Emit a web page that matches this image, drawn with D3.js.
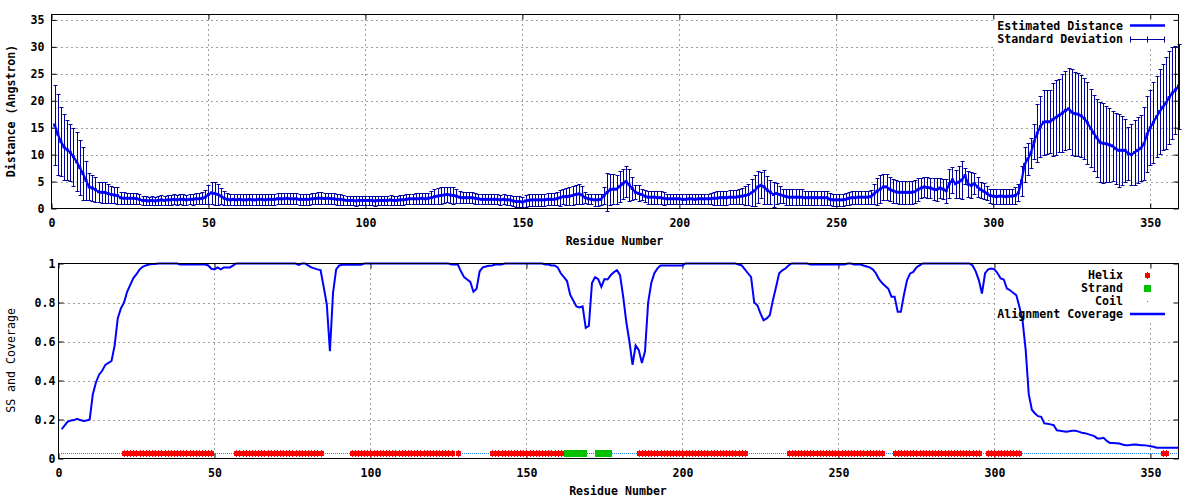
<!DOCTYPE html>
<html><head><meta charset="utf-8">
<script src="https://cdn.jsdelivr.net/npm/d3@7"></script>
<style>
body{margin:0;background:#fff;}
svg text{font-family:"DejaVu Sans Mono",monospace;font-weight:bold;font-size:11.6px;fill:#000;}
</style></head><body>
<svg id="c" width="1200" height="500"></svg>
<script>
// ---------- data ----------
const xTicks=[0,50,100,150,200,250,300,350];
const distTicks=[0,5,10,15,20,25,30,35];
const covTicks=[0,0.2,0.4,0.6,0.8,1];
const covTickLabels=["0","0.2","0.4","0.6","0.8","1"];
const residueFirst=1;
const xMax=359, distMax=36;

const distMean=[
15.5,13.8,12.4,11.4,10.9,10.4,9.6,8.7,7.6,6.5,
5.2,4.0,3.8,3.5,3.1,3.0,3.0,2.8,2.6,2.5,
2.4,2.0,1.9,1.9,1.9,1.9,1.85,1.7,1.5,1.5,
1.4,1.5,1.4,1.5,1.6,1.5,1.6,1.6,1.7,1.6,
1.7,1.7,1.6,1.7,1.7,1.8,1.8,1.9,2.1,2.6,
2.9,2.8,2.6,2.3,1.9,1.7,1.6,1.7,1.6,1.7,
1.6,1.6,1.7,1.6,1.6,1.7,1.7,1.6,1.7,1.7,
1.7,1.8,1.8,1.8,1.9,1.8,1.8,1.8,1.7,1.7,
1.7,1.7,1.8,1.85,1.9,1.9,1.85,1.9,1.85,1.8,
1.7,1.7,1.6,1.5,1.5,1.5,1.4,1.5,1.5,1.5,
1.5,1.5,1.4,1.5,1.5,1.5,1.5,1.6,1.5,1.5,
1.6,1.6,1.7,1.8,1.8,1.8,1.8,1.9,1.8,1.9,
2.0,2.2,2.3,2.4,2.5,2.6,2.5,2.4,2.3,2.1,
2.0,2.0,2.0,2.0,1.9,1.8,1.7,1.7,1.7,1.7,
1.7,1.7,1.6,1.7,1.6,1.6,1.4,1.3,1.3,1.2,
1.4,1.5,1.6,1.6,1.6,1.6,1.6,1.7,1.7,1.7,
1.8,2.0,2.2,2.2,2.3,2.4,2.6,2.7,2.5,2.0,
1.8,1.7,1.6,1.6,1.7,2.4,3.0,3.5,3.6,3.6,
4.1,4.6,5.0,4.4,3.7,3.0,2.8,2.6,2.3,2.1,
2.1,2.1,2.0,2.0,1.9,1.8,1.8,1.8,1.8,1.8,
1.7,1.7,1.8,1.8,1.7,1.8,1.8,1.8,1.8,1.8,
1.9,1.9,2.0,2.0,2.0,2.1,2.1,2.1,2.2,2.3,
2.4,2.6,2.9,3.3,4.0,4.3,4.0,3.4,3.0,2.6,
2.8,2.6,2.4,2.2,2.1,2.1,2.1,2.1,2.1,2.0,
2.0,2.0,2.0,2.0,2.0,2.0,2.0,1.7,1.6,1.6,
1.6,1.6,1.7,1.9,2.0,2.0,2.1,2.1,2.1,2.1,
2.2,2.7,3.2,3.6,4.0,4.0,3.6,3.3,3.1,3.0,
3.0,3.0,3.0,3.0,3.1,3.5,3.8,4.0,3.9,3.8,
3.6,3.5,3.8,3.6,3.3,4.6,5.3,4.6,4.9,5.3,
6.1,4.5,4.3,4.6,4.0,3.5,3.2,2.8,2.4,2.3,
2.2,2.3,2.3,2.2,2.3,2.3,2.4,2.9,5.1,8.2,
9.2,10.3,12.4,14.0,15.2,16.0,16.1,16.1,16.5,16.9,
17.3,17.7,18.2,18.5,17.9,17.6,17.5,17.2,16.7,15.9,
14.9,14.0,13.1,12.3,12.1,12.0,11.8,11.6,11.1,10.8,
10.8,10.8,10.2,10.0,10.4,10.8,11.2,12.0,13.8,15.0,
16.0,17.0,18.0,18.8,19.6,20.6,21.4,22.0,22.7];

const distSD=[
7.5,7.5,6.4,6.2,5.6,5.3,5.4,5.5,5.1,4.9,
3.7,2.5,2.5,2.3,1.9,1.9,1.9,1.7,1.6,1.5,
1.5,1.1,1.1,1.0,1.0,1.0,1.0,0.9,0.8,0.8,
0.8,0.8,0.8,0.8,0.9,0.9,0.9,0.9,0.9,0.9,
0.9,1.0,0.9,0.9,1.0,1.0,1.0,1.1,1.3,1.8,
2.1,2.2,2.0,1.5,1.3,1.1,1.0,1.0,1.0,1.0,
1.0,1.0,1.0,1.0,1.0,1.0,1.0,1.0,1.0,1.0,
1.0,1.0,1.0,1.0,1.0,1.0,1.0,1.0,1.0,1.0,
1.0,1.0,1.0,1.0,1.1,1.1,1.0,1.0,1.0,1.0,
1.0,1.0,0.9,0.9,0.9,0.9,0.9,0.9,0.9,0.9,
0.9,0.9,0.9,0.9,0.9,0.9,0.9,0.9,0.9,0.9,
0.9,0.9,0.9,0.9,0.9,1.0,1.0,1.0,1.0,1.0,
1.2,1.4,1.5,1.5,1.5,1.4,1.5,1.5,1.3,1.1,
1.0,1.0,1.0,1.0,1.0,0.9,0.9,0.9,0.9,0.9,
0.9,0.9,0.9,0.9,0.9,0.9,1.0,1.0,1.0,1.0,
1.1,1.1,1.1,1.1,1.1,1.1,1.1,1.1,1.1,1.1,
1.2,1.5,1.4,1.6,1.6,1.7,1.8,1.8,1.6,1.0,
0.9,0.9,1.1,1.1,1.0,1.5,3.5,2.9,2.8,2.7,
2.9,2.8,2.9,3.0,2.1,1.3,1.5,1.0,1.1,1.2,
1.2,1.2,1.2,1.2,1.2,0.9,0.9,0.9,0.9,0.9,
0.9,0.9,0.9,0.9,0.9,0.9,0.9,0.9,0.9,1.0,
1.2,1.3,1.3,1.3,1.3,1.3,1.3,1.3,1.4,1.5,
1.7,2.0,2.5,2.9,3.0,2.4,3.1,2.6,2.2,2.3,
1.9,1.5,1.3,1.5,1.5,1.5,1.5,1.5,1.5,1.3,
1.3,1.3,1.3,1.3,1.3,1.3,1.3,1.1,1.1,1.1,
1.1,1.1,1.1,1.2,1.2,1.2,1.2,1.2,1.2,1.2,
1.3,1.9,2.5,2.6,2.4,2.4,2.3,2.2,2.1,2.1,
2.1,2.1,2.1,2.1,2.1,2.1,1.9,1.8,1.9,1.9,
2.0,2.2,1.9,1.8,2.2,2.7,2.4,2.6,3.0,3.5,
1.5,2.4,2.4,2.0,1.8,1.5,1.5,1.3,1.3,1.4,
1.4,1.4,1.4,1.4,1.4,1.4,1.5,1.6,2.8,3.2,
3.0,2.8,3.2,5.3,5.7,6.0,5.9,5.8,6.8,6.9,
6.8,7.2,7.4,7.5,8.0,7.8,7.7,7.6,7.5,7.6,
7.2,7.1,7.2,7.4,7.4,7.1,6.8,6.5,6.6,6.8,
6.4,5.8,5.0,5.6,6.0,6.1,6.1,6.8,7.0,7.0,
7.5,7.5,7.9,8.0,8.5,8.7,8.5,8.1,7.9];

const coverage=[
0.15,0.17,0.19,0.195,0.197,0.203,0.197,0.193,0.195,0.20,
0.33,0.39,0.43,0.45,0.48,0.49,0.50,0.58,0.72,0.77,
0.80,0.855,0.89,0.925,0.945,0.97,0.983,0.99,0.995,0.997,
0.998,1,1,1,1,1,1,1,0.995,0.995,
0.995,0.995,0.995,0.995,0.995,0.995,0.995,0.99,0.973,0.97,
0.98,0.97,0.98,0.98,0.98,0.99,1,1,1,1,
1,1,1,1,1,1,1,1,1,1,
1,1,1,1,1,1,0.993,1,1,0.99,
0.98,0.975,0.97,0.966,0.88,0.79,0.55,0.85,0.97,0.99,
0.993,0.993,0.993,0.993,0.993,0.993,0.993,1,1,1,
1,1,1,1,1,1,1,1,1,1,
1,1,1,1,1,1,1,1,1,1,
1,1,1,1,1,0.995,0.995,0.995,0.96,0.93,
0.918,0.906,0.855,0.87,0.96,0.98,0.985,0.988,0.99,0.995,
0.995,0.995,1,1,1,1,1,1,1,1,
1,1,1,1,1,0.995,0.995,0.99,0.99,0.98,
0.95,0.93,0.91,0.84,0.81,0.78,0.775,0.78,0.67,0.68,
0.90,0.93,0.92,0.88,0.92,0.918,0.94,0.955,0.966,0.94,
0.83,0.70,0.60,0.48,0.58,0.556,0.49,0.55,0.80,0.90,
0.95,0.975,0.99,0.99,0.99,0.99,0.99,0.99,0.99,0.99,
1,1,1,1,1,1,1,1,1,1,
1,1,1,1,1,1,1,0.995,0.99,0.97,
0.95,0.93,0.80,0.786,0.744,0.709,0.718,0.735,0.812,0.88,
0.95,0.965,0.974,0.99,1,1,1,1,1,1,
0.995,0.995,0.995,0.995,0.995,0.995,0.995,0.995,0.995,0.995,
0.995,0.995,1,1,0.995,0.995,0.995,0.99,0.985,0.98,
0.97,0.95,0.92,0.90,0.885,0.87,0.83,0.83,0.752,0.752,
0.84,0.915,0.949,0.957,0.98,0.99,1,1,1,1,
1,1,1,1,1,1,1,1,1,1,
1,1,0.99,0.96,0.915,0.846,0.95,0.97,0.974,0.97,
0.95,0.923,0.918,0.872,0.863,0.85,0.838,0.778,0.709,0.56,
0.33,0.25,0.231,0.217,0.214,0.18,0.178,0.175,0.171,0.145,
0.142,0.14,0.137,0.14,0.142,0.142,0.138,0.132,0.13,0.125,
0.12,0.115,0.103,0.103,0.106,0.09,0.08,0.079,0.078,0.077,
0.072,0.068,0.068,0.07,0.072,0.07,0.068,0.068,0.066,0.063,
0.06,0.055,0.055,0.055,0.055,0.055,0.055,0.055,0.055];

const helixSegments=[[21,49],[57,84],[94,126],[128,128],[139,161],[186,220],[234,264],[268,295],[298,308],[354,355]];
const strandSegments=[[163,168],[173,176]];
const ssLevel=0.03;

const distLabels=["Estimated Distance","Standard Deviation"];
const covLabels=["Helix","Strand","Coil","Alignment Coverage"];

// ---------- drawing ----------
const svg=d3.select("#c");
svg.append("rect").attr("width",1200).attr("height",500).attr("fill","#fff");
const C={line:"#0000ff",bar:"#0000a0",grid:"#a0a0a0",helix:"#ff0000",strand:"#00c000",coil:"#1e7fff"};

function panel(box, yDomain, yTickVals, yTickFmt, yPad, keyBox){
  const x=d3.scaleLinear().domain([0,xMax]).range([box.l+0.5,box.r+0.5]);
  const y=d3.scaleLinear().domain(yDomain).range([box.b+0.5,box.t+0.5]);
  const g=svg.append("g");
  const grid=g.append("g").attr("stroke",C.grid).attr("stroke-dasharray","2,3").attr("fill","none");
  xTicks.filter(t=>t>0).forEach(t=>grid.append("line").attr("x1",Math.round(x(t))+0.5).attr("x2",Math.round(x(t))+0.5).attr("y1",box.t).attr("y2",box.b));
  yTickVals.filter(t=>t>yDomain[0]&&t<yDomain[1]).forEach(t=>grid.append("line").attr("y1",Math.round(y(t))+0.5).attr("y2",Math.round(y(t))+0.5).attr("x1",box.l).attr("x2",box.r));
  g.append("rect").attr("x",keyBox[0]).attr("y",keyBox[1]).attr("width",keyBox[2]-keyBox[0]).attr("height",keyBox[3]-keyBox[1]).attr("fill","#fff");
  const ax=(a,tr)=>{const s=g.append("g").attr("transform",tr).call(a);s.select(".domain").remove();s.selectAll("line").attr("stroke","#000");s.selectAll("text").attr("fill","#000");s.attr("font-size",null).attr("font-family",null);return s;};
  ax(d3.axisBottom(x).tickValues(xTicks).tickSize(-5).tickPadding(10).tickFormat(d3.format("d")),`translate(0,${box.b+0.5})`);
  ax(d3.axisTop(x).tickValues(xTicks).tickSize(-5).tickFormat(""),`translate(0,${box.t+0.5})`);
  ax(d3.axisLeft(y).tickValues(yTickVals).tickSize(-5).tickPadding(yPad).tickFormat(yTickFmt),`translate(${box.l+0.5},0)`);
  ax(d3.axisRight(y).tickValues(yTickVals).tickSize(-5).tickFormat(""),`translate(${box.r+0.5},0)`);
  return {x,y,g};
}

// ---- top panel ----
const P1={l:51,r:1178,t:14,b:208};
const t=panel(P1,[0,distMax],distTicks,d3.format("d"),7,[993,15,1178,48]);
const dIdx=distMean.map((m,i)=>({r:i+residueFirst,m,s:distSD[i]}));
const bars=d3.path();
dIdx.forEach(d=>{
  const xx=Math.round(t.x(d.r))+0.5, y1=Math.round(t.y(d.m+d.s))+0.5, y0=Math.round(t.y(d.m-d.s))+0.5;
  bars.moveTo(xx,y0);bars.lineTo(xx,y1);
  bars.moveTo(xx-2,y1);bars.lineTo(xx+2,y1);
  bars.moveTo(xx-2,y0);bars.lineTo(xx+2,y0);
});
t.g.append("path").attr("d",bars.toString()).attr("stroke",C.bar).attr("stroke-width",1).attr("fill","none");
t.g.append("path").datum(dIdx).attr("d",d3.line().x(d=>t.x(d.r)).y(d=>t.y(d.m))).attr("stroke",C.line).attr("stroke-width",2.2).attr("fill","none");
t.g.selectAll("rect.pt").data(dIdx).join("rect").attr("class","pt").attr("x",d=>t.x(d.r)-1.5).attr("y",d=>t.y(d.m)-1.5).attr("width",3).attr("height",3).attr("fill",C.line);
t.g.append("rect").attr("x",P1.l+0.5).attr("y",P1.t+0.5).attr("width",P1.r-P1.l).attr("height",P1.b-P1.t).attr("fill","none").attr("stroke","#000");
const k1=t.g.append("g");
k1.append("text").attr("x",1123).attr("y",25.7).attr("dy","0.36em").attr("text-anchor","end").text(distLabels[0]);
k1.append("text").attr("x",1123).attr("y",39.3).attr("dy","0.36em").attr("text-anchor","end").text(distLabels[1]);
k1.append("line").attr("x1",1130).attr("x2",1165).attr("y1",25.5).attr("y2",25.5).attr("stroke",C.line).attr("stroke-width",2.5);
k1.append("path").attr("d","M1130.5,39.5H1164.5M1130.5,36.5V42.5M1164.5,36.5V42.5M1147.5,36.5V42.5").attr("stroke",C.bar).attr("fill","none");
svg.append("text").attr("x",614.5).attr("y",240.7).attr("dy","0.36em").attr("text-anchor","middle").text("Residue Number");
svg.append("text").attr("transform","translate(11,111) rotate(-90)").attr("dy","0.36em").attr("text-anchor","middle").text("Distance (Angstron)");

// ---- bottom panel ----
const P2={l:58,r:1178,t:263,b:458};
const b=panel(P2,[0,1],covTicks,d=>covTickLabels[covTicks.indexOf(d)],3,[997,264,1178,320]);
const ssOf=r=>helixSegments.some(s=>r>=s[0]&&r<=s[1])?"H":strandSegments.some(s=>r>=s[0]&&r<=s[1])?"E":"C";
const residues=coverage.map((c,i)=>({r:i+residueFirst,c,ss:ssOf(i+residueFirst)}));
const yss=Math.round(b.y(ssLevel));
// coil: dotted runs
const coilPath=d3.path();
let runStart=null;
residues.forEach((d,i)=>{
  const isC=d.ss==="C";
  if(isC&&runStart===null) runStart=d.r;
  const next=residues[i+1];
  if(isC&&(!next||next.ss!=="C")){coilPath.moveTo(Math.round(b.x(runStart))-1,yss+0.5);coilPath.lineTo(Math.min(Math.round(b.x(d.r))+2,P2.r),yss+0.5);runStart=null;}
});
b.g.append("path").attr("d",coilPath.toString()).attr("stroke",C.coil).attr("stroke-width",1).attr("stroke-dasharray","1,1").attr("shape-rendering","crispEdges").attr("fill","none");
// helix markers
const hel=residues.filter(d=>d.ss==="H");
const hg=b.g.append("g").attr("fill",C.helix).attr("shape-rendering","crispEdges");
hg.selectAll("rect.h1").data(hel).join("rect").attr("class","h1").attr("x",d=>Math.round(b.x(d.r))-2).attr("y",yss-2).attr("width",5).attr("height",5);
hg.selectAll("rect.h2").data(hel).join("rect").attr("class","h2").attr("x",d=>Math.round(b.x(d.r))).attr("y",yss-3).attr("width",1).attr("height",7);
// strand markers
const str=residues.filter(d=>d.ss==="E");
b.g.selectAll("rect.e").data(str).join("rect").attr("class","e").attr("x",d=>Math.round(b.x(d.r))-3).attr("y",yss-3).attr("width",7).attr("height",7).attr("fill",C.strand).attr("shape-rendering","crispEdges");
// coverage line
b.g.append("path").datum(residues).attr("d",d3.line().x(d=>b.x(d.r)).y(d=>b.y(d.c))).attr("stroke",C.line).attr("stroke-width",2).attr("fill","none");
b.g.append("rect").attr("x",P2.l+0.5).attr("y",P2.t+0.5).attr("width",P2.r-P2.l).attr("height",P2.b-P2.t).attr("fill","none").attr("stroke","#000");
const k2=b.g.append("g");
const rowsY=[275,288,301,314];
covLabels.forEach((l,i)=>k2.append("text").attr("x",1123).attr("y",rowsY[i]).attr("dy","0.36em").attr("text-anchor","end").text(l));
k2.append("rect").attr("x",1145).attr("y",rowsY[0]-2).attr("width",5).attr("height",5).attr("fill",C.helix).attr("shape-rendering","crispEdges");
k2.append("rect").attr("x",1147).attr("y",rowsY[0]-3).attr("width",1).attr("height",7).attr("fill",C.helix).attr("shape-rendering","crispEdges");
k2.append("rect").attr("x",1144).attr("y",rowsY[1]-3).attr("width",7).attr("height",7).attr("fill",C.strand).attr("shape-rendering","crispEdges");
k2.append("rect").attr("x",1147).attr("y",rowsY[2]).attr("width",1).attr("height",1).attr("fill",C.coil).attr("shape-rendering","crispEdges");
k2.append("line").attr("x1",1130).attr("x2",1165).attr("y1",rowsY[3]).attr("y2",rowsY[3]).attr("stroke",C.line).attr("stroke-width",2.5);
svg.append("text").attr("x",618).attr("y",490.7).attr("dy","0.36em").attr("text-anchor","middle").text("Residue Number");
svg.append("text").attr("transform","translate(11,360.5) rotate(-90)").attr("dy","0.36em").attr("text-anchor","middle").style("font-weight","normal").text("SS and Coverage");
</script></body></html>
